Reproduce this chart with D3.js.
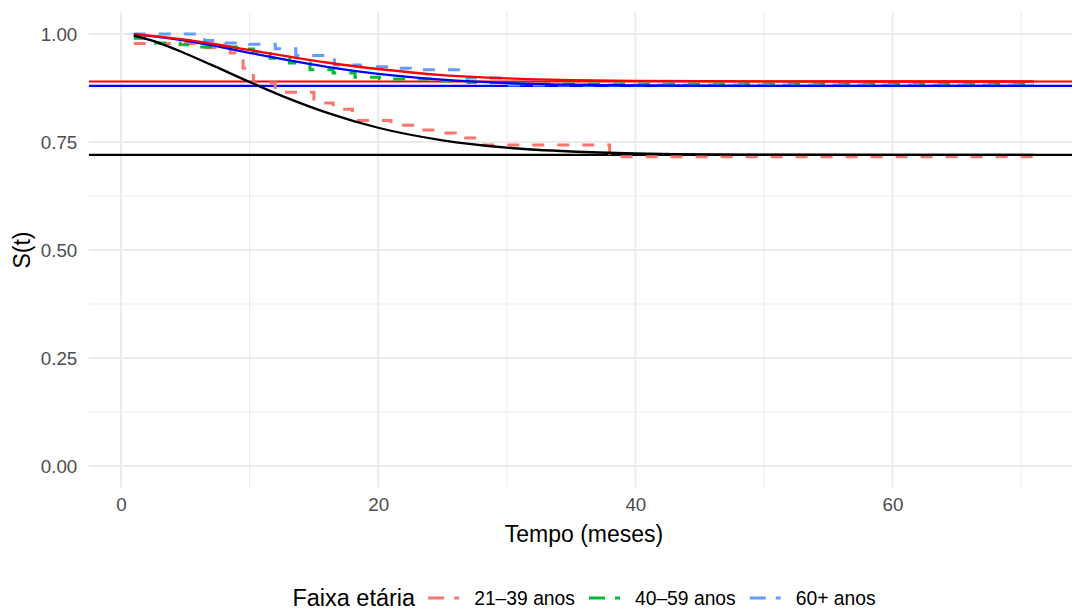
<!DOCTYPE html>
<html>
<head>
<meta charset="utf-8">
<script src="https://cdn.jsdelivr.net/npm/d3@7"></script>
<style>
  html, body { margin: 0; padding: 0; background: #ffffff; }
  svg { display: block; font-family: "Liberation Sans", Arial, Helvetica, sans-serif; }
</style>
</head>
<body>
<svg id="chart" width="1072" height="610"></svg>
<script>
// ---------- DATA ----------
const groupLabels = ["21–39 anos", "40–59 anos", "60+ anos"];
const groupColors = ["#F8766D", "#00BA38", "#619CFF"];

// Kaplan–Meier step estimates (time in months, survival)
const kmTime21 = [1, 6.4, 8.5, 9.5, 10.3, 12, 15, 16.5, 18, 21, 23, 24.5, 26, 28, 38, 71];
const kmSurv21 = [0.978, 0.968, 0.956, 0.921, 0.887, 0.865, 0.840, 0.826, 0.800, 0.789, 0.778, 0.771, 0.759, 0.743, 0.716, 0.716];

const kmTime40 = [1, 2.5, 4.6, 6.1, 9, 10.3, 11.6, 13.1, 14.7, 16.5, 18.2, 20.1, 24, 27, 30.2, 71];
const kmSurv40 = [0.990, 0.979, 0.975, 0.970, 0.965, 0.960, 0.944, 0.933, 0.917, 0.910, 0.900, 0.896, 0.891, 0.888, 0.884, 0.884];

const kmTime60 = [1, 6.5, 8.1, 10, 12, 13.6, 16.6, 18.6, 20.9, 22.5, 26.9, 29.9, 71];
const kmSurv60 = [1.000, 0.985, 0.979, 0.976, 0.966, 0.950, 0.928, 0.924, 0.921, 0.917, 0.898, 0.882, 0.882];

// Fitted cure-model curves
const fitTime   = [1, 3, 5, 7, 10, 13, 16, 20, 25, 30, 35, 40, 50, 60, 71];
const fitRed    = [0.999, 0.994, 0.987, 0.978, 0.963, 0.948, 0.934, 0.919, 0.905, 0.8975, 0.8934, 0.8914, 0.8902, 0.8900, 0.8900];
const fitBlue   = [0.999, 0.993, 0.9845, 0.974, 0.9565, 0.9394, 0.9241, 0.9078, 0.8942, 0.8865, 0.8827, 0.8810, 0.8801, 0.8800, 0.8800];
const fitBlack  = [0.996, 0.979, 0.955, 0.929, 0.889, 0.851, 0.818, 0.783, 0.754, 0.737, 0.728, 0.7236, 0.7206, 0.7200, 0.7200];

// Cure fractions (horizontal reference lines)
const cureValues = [0.89, 0.88, 0.72];
const cureColors = ["red", "blue", "black"];

const xTicks = [0, 20, 40, 60];
const xMinor = [10, 30, 50, 70];
const yTicks = [0, 0.25, 0.5, 0.75, 1.0];
const yMinor = [0.125, 0.375, 0.625, 0.875];

const xTitle = "Tempo (meses)";
const yTitle = "S(t)";
const legendTitle = "Faixa etária";

// ---------- LAYOUT ----------
const svg = d3.select("#chart");
const panel = { left: 88.8, right: 1079, top: 12.4, bottom: 487.6 };

const x = d3.scaleLinear().domain([-2.5, 74.5]).range([panel.left, panel.right]);
const y = d3.scaleLinear().domain([-0.05, 1.05]).range([panel.bottom, panel.top]);

const grid = svg.append("g");
grid.selectAll(".vmin").data(xMinor).join("line")
  .attr("x1", d => x(d)).attr("x2", d => x(d))
  .attr("y1", panel.top).attr("y2", panel.bottom)
  .attr("stroke", "#EBEBEB").attr("stroke-width", 1);
grid.selectAll(".hmin").data(yMinor).join("line")
  .attr("y1", d => y(d)).attr("y2", d => y(d))
  .attr("x1", panel.left).attr("x2", panel.right)
  .attr("stroke", "#EBEBEB").attr("stroke-width", 1);
grid.selectAll(".vmaj").data(xTicks).join("line")
  .attr("x1", d => x(d)).attr("x2", d => x(d))
  .attr("y1", panel.top).attr("y2", panel.bottom)
  .attr("stroke", "#EBEBEB").attr("stroke-width", 2);
grid.selectAll(".hmaj").data(yTicks).join("line")
  .attr("y1", d => y(d)).attr("y2", d => y(d))
  .attr("x1", panel.left).attr("x2", panel.right)
  .attr("stroke", "#EBEBEB").attr("stroke-width", 2);

// axes (labels only, theme_minimal)
const xAxis = svg.append("g")
  .attr("transform", `translate(0,${panel.bottom})`)
  .call(d3.axisBottom(x).tickValues(xTicks).tickFormat(d3.format("d")).tickSize(0).tickPadding(17));
const yAxis = svg.append("g")
  .attr("transform", `translate(${panel.left},0)`)
  .call(d3.axisLeft(y).tickValues(yTicks).tickFormat(d3.format(".2f")).tickSize(0).tickPadding(11.5));
[xAxis, yAxis].forEach(a => {
  a.select(".domain").remove();
  a.selectAll("text")
    .attr("font-size", 18.8)
    .attr("fill", "#4D4D4D")
    .attr("font-family", "Liberation Sans, Arial, sans-serif");
});
xAxis.selectAll("text").attr("dy", null).attr("y", 17).attr("dominant-baseline", "central");

svg.append("clipPath").attr("id", "clip").append("rect")
  .attr("x", panel.left).attr("y", panel.top)
  .attr("width", panel.right - panel.left).attr("height", panel.bottom - panel.top);

const plot = svg.append("g").attr("clip-path", "url(#clip)");

// horizontal cure fraction lines
plot.selectAll(".cure").data(cureValues).join("line")
  .attr("x1", panel.left).attr("x2", panel.right)
  .attr("y1", d => y(d)).attr("y2", d => y(d))
  .attr("stroke", (d, i) => cureColors[i]).attr("stroke-width", 2.2);

// KM step curves
const kmSeries = [
  kmTime21.map((t, i) => [t, kmSurv21[i]]),
  kmTime40.map((t, i) => [t, kmSurv40[i]]),
  kmTime60.map((t, i) => [t, kmSurv60[i]])
];
const stepLine = d3.line().x(d => x(d[0])).y(d => y(d[1])).curve(d3.curveStepAfter);
plot.selectAll(".km").data(kmSeries).join("path")
  .attr("d", stepLine)
  .attr("fill", "none")
  .attr("stroke", (d, i) => groupColors[i])
  .attr("stroke-width", 3)
  .attr("stroke-dasharray", "12,13");

// fitted curves
const smooth = d3.line().x(d => x(d[0])).y(d => y(d[1])).curve(d3.curveMonotoneX);
const fits = [
  { v: fitBlue, c: "blue" },
  { v: fitRed, c: "red" },
  { v: fitBlack, c: "black" }
];
fits.forEach(f => {
  plot.append("path")
    .attr("d", smooth(fitTime.map((t, i) => [t, f.v[i]])))
    .attr("fill", "none").attr("stroke", f.c).attr("stroke-width", 2.3);
});

// axis titles
svg.append("text").attr("x", 584).attr("y", 534)
  .attr("text-anchor", "middle").attr("dominant-baseline", "central")
  .attr("font-size", 23).attr("fill", "#000").text(xTitle);
svg.append("text").attr("transform", `translate(22,${(panel.top + panel.bottom) / 2}) rotate(-90)`)
  .attr("text-anchor", "middle").attr("dominant-baseline", "central")
  .attr("font-size", 23).attr("fill", "#000").text(yTitle);

// legend
const lg = svg.append("g");
const ly = 598;
const titleEl = lg.append("text").attr("x", 0).attr("y", ly)
  .attr("dominant-baseline", "central").attr("font-size", 23.5).attr("fill", "#000").text(legendTitle);
let cx = titleEl.node().getComputedTextLength() + 13;
groupLabels.forEach((lab, i) => {
  lg.append("line").attr("x1", cx).attr("x2", cx + 31).attr("y1", ly).attr("y2", ly)
    .attr("stroke", groupColors[i]).attr("stroke-width", 3).attr("stroke-dasharray", "16,10");
  cx += 31 + 15;
  const t = lg.append("text").attr("x", cx).attr("y", ly)
    .attr("dominant-baseline", "central").attr("font-size", 19.3).attr("fill", "#000").text(lab);
  cx += t.node().getComputedTextLength() + (i < groupLabels.length - 1 ? 14 : 0);
});
lg.attr("transform", `translate(${584 - cx / 2},0)`);
</script>
</body>
</html>
